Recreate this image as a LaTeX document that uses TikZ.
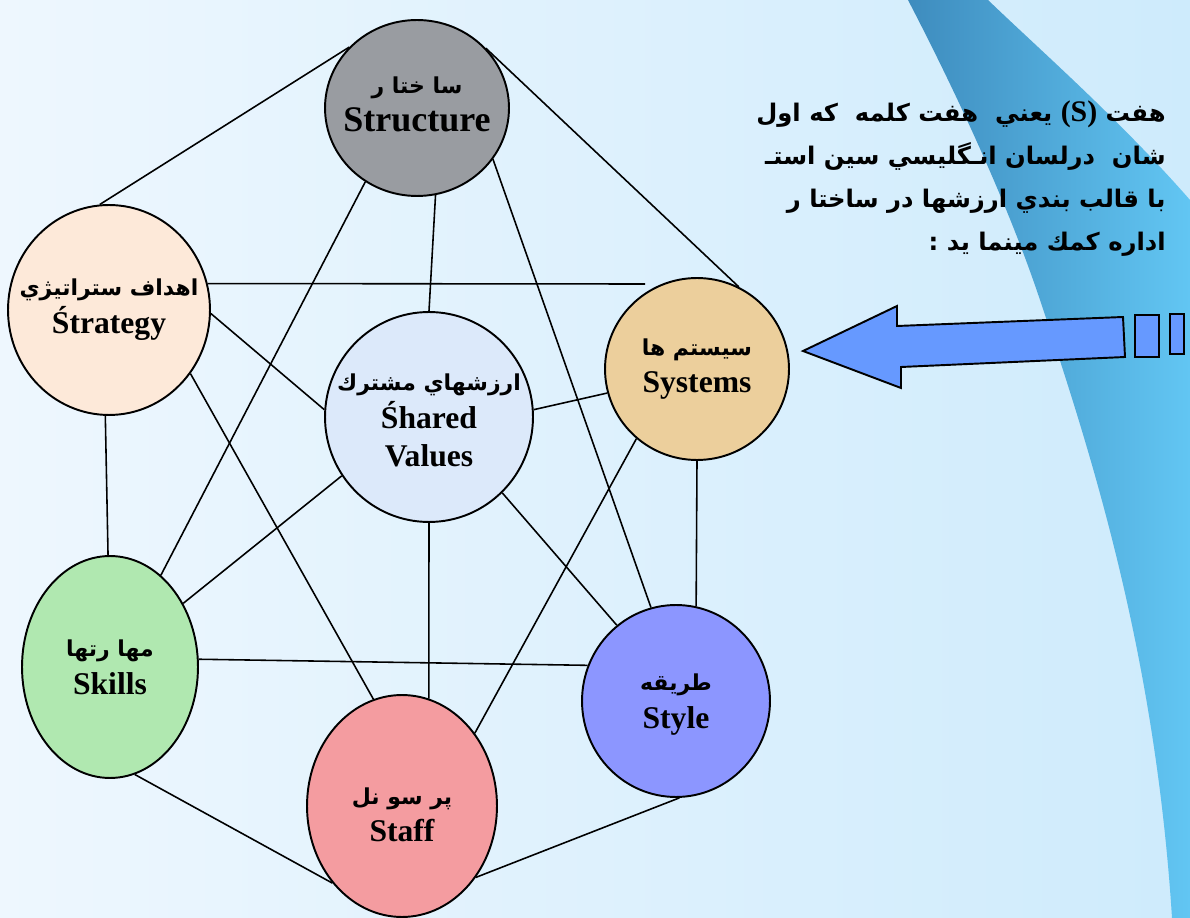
\documentclass[tikz,border=0pt]{standalone}
\usepackage{fontspec}
\setmainfont{Liberation Serif}
\newfontfamily\arabicfont[Script=Arabic]{DejaVu Sans}
\TeXXeTstate=1
\usetikzlibrary{shapes.geometric, positioning}

\definecolor{bgleft}{RGB}{238,247,254}
\definecolor{bgright}{RGB}{206,235,252}
\definecolor{bandA}{RGB}{62,140,190}
\definecolor{bandB}{RGB}{98,198,243}
\definecolor{arrowblue}{RGB}{102,153,255}
\definecolor{cStructure}{RGB}{153,156,161}
\definecolor{cStrategy}{RGB}{253,233,217}
\definecolor{cShared}{RGB}{220,233,250}
\definecolor{cSystems}{RGB}{236,207,156}
\definecolor{cSkills}{RGB}{176,232,176}
\definecolor{cStyle}{RGB}{140,150,255}
\definecolor{cStaff}{RGB}{244,156,160}

\tikzset{
  sbox/.style={draw, ellipse, line width=1.1pt, inner sep=0pt},
  stext/.style={align=center, inner sep=0pt, font=\fontsize{18}{21.5}\selectfont\bfseries},
  link/.style={line width=0.9pt}
}
\newcommand{\fa}{\arabicfont\fontsize{12.5}{21.5}\selectfont}

\begin{document}
\begin{tikzpicture}[x=0.02cm, y=-0.02cm]

\useasboundingbox (0,0) rectangle (1190,918);
\shade[left color=bgleft, right color=bgright] (0,0) rectangle (1190,918);
\shade[left color=bandA, right color=bandB] (908,0) .. controls (960,100) and (1010,210) .. (1040,300)
  .. controls (1090,450) and (1155,650) .. (1172,918) -- (1190,918) -- (1190,200)
  .. controls (1120,120) and (1040,50) .. (988,0) -- cycle;

\node[sbox, fill=cStructure, minimum width=3.68cm, minimum height=3.52cm,
  label={[stext, yshift=2pt]center:{{\fa\beginR سا ختا ر\endR}\\ {\fontsize{20.5}{21.5}\selectfont Structure}}}] (struct) at (417,108) {};
\node[sbox, fill=cStrategy, minimum width=4.04cm, minimum height=4.2cm,
  label={[stext]center:{{\fa\beginR اهداف ستراتيژي\endR}\\ \'{S}trategy}}] (strat) at (109,310) {};
\node[sbox, fill=cShared, minimum width=4.16cm, minimum height=4.2cm,
  label={[stext, yshift=-2pt]center:{{\fa\beginR ارزشهاي مشترك\endR}\\ \'{S}hared\\ Values}}] (shared) at (429,417) {};
\node[sbox, fill=cSystems, minimum width=3.68cm, minimum height=3.64cm,
  label={[stext]center:{{\fa\beginR سيستم ها\endR}\\ Systems}}] (systems) at (697,369) {};
\node[sbox, fill=cSkills, minimum width=3.52cm, minimum height=4.44cm,
  label={[stext]center:{{\fa\beginR مها رتها\endR}\\ Skills}}] (skills) at (110,667) {};
\node[sbox, fill=cStyle, minimum width=3.76cm, minimum height=3.84cm,
  label={[stext, yshift=-2pt]center:{{\fa\beginR طريقه\endR}\\ Style}}] (style) at (676,701) {};
\node[sbox, fill=cStaff, minimum width=3.8cm, minimum height=4.44cm,
  label={[stext, yshift=-5pt]center:{{\fa\beginR پر سو نل\endR}\\ Staff}}] (staff) at (402,806) {};

% the Strategy line stops short of Systems
\coordinate (sysgap) at (645,284);

\draw[link] (strat.95) -- (struct.138);
\draw[link] (struct.41) -- (systems.63);
\draw[link] (struct.282) -- (shared.90);
\draw[link] (struct.235) -- (skills.61);
\draw[link] (struct.326) -- (style.105);
\draw[link] (strat.15) -- (sysgap);
\draw[link] (strat.-2) -- (shared.176);
\draw[link] (strat.268) -- (skills.91);
\draw[link] (strat.322) -- (staff.105);
\draw[link] (shared.4) -- (systems.195);
\draw[link] (shared.214) -- (skills.41);
\draw[link] (shared.270) -- (staff.76);
\draw[link] (shared.314) -- (style.128);
\draw[link] (systems.270) -- (style.78);
\draw[link] (systems.229) -- (staff.45);
\draw[link] (skills.5) -- (style.158);
\draw[link] (skills.283) -- (staff.228);
\draw[link] (style.272) -- (staff.316);

% block arrow pointing at Systems
\draw[fill=arrowblue, line width=1.1pt] (803,351) -- (897,306) -- (897,326) -- (1123,317) -- (1125,357) -- (901,367) -- (901,388) -- cycle;
\draw[fill=arrowblue, line width=1.1pt] (1135,315) rectangle (1159,357);
\draw[fill=arrowblue, line width=1.1pt] (1170,314) rectangle (1184,354);

\node[anchor=north east, align=right, inner sep=0pt, font=\arabicfont\bfseries\fontsize{13.8}{24.5}\selectfont] (note) at (1166,100)
  {\beginR هفت \beginL{\rmfamily\bfseries\fontsize{17}{24.5}\selectfont(S)}\endL{} يعني~ هفت كلمه~ كه اول\endR\\
   \beginR شان~ درلسان انـگليسي سين استـ\endR\\
   \beginR با قالب بندي ارزشها در ساختا ر\endR\\
   \beginR اداره كمك مينما يد :\endR};

\end{tikzpicture}
\end{document}
